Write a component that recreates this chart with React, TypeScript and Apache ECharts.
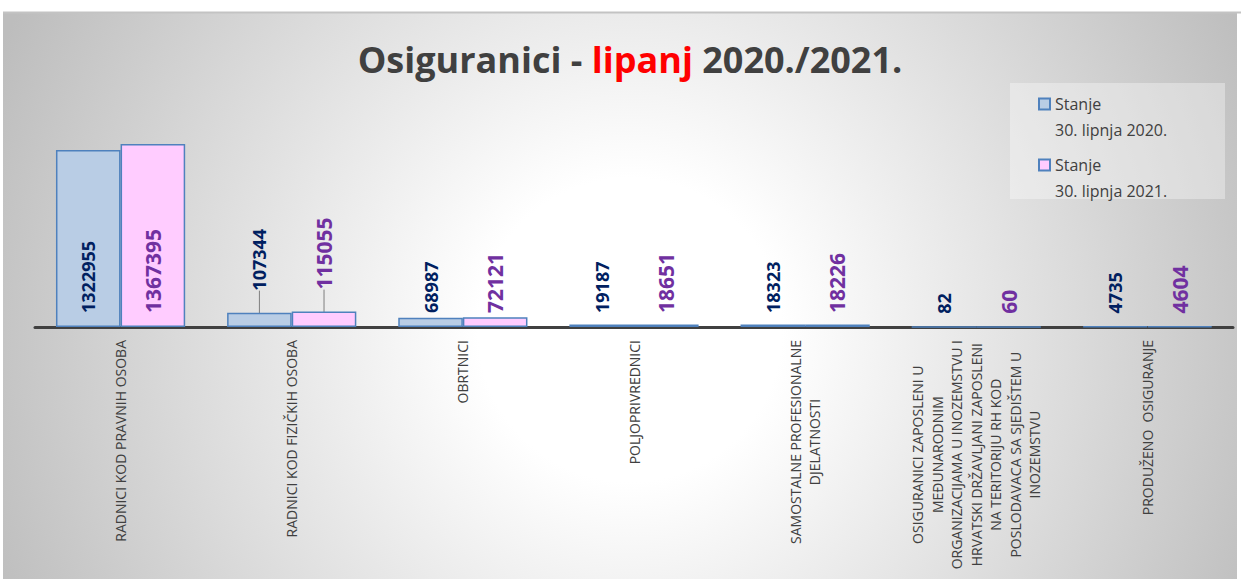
import React, { useEffect, useRef } from "react";
import * as echarts from "echarts";

const categories = [
  "RADNICI KOD PRAVNIH OSOBA",
  "RADNICI KOD FIZIČKIH OSOBA",
  "OBRTNICI",
  "POLJOPRIVREDNICI",
  "SAMOSTALNE PROFESIONALNE\nDJELATNOSTI",
  "OSIGURANICI ZAPOSLENI U\nMEĐUNARODNIM\nORGANIZACIJAMA U INOZEMSTVU I\nHRVATSKI DRŽAVLJANI ZAPOSLENI\nNA TERITORIJU RH KOD\nPOSLODAVACA SA SJEDIŠTEM U\nINOZEMSTVU",
  "PRODUŽENO  OSIGURANJE",
];
const values2020 = [1322955, 107344, 68987, 19187, 18323, 82, 4735];
const values2021 = [1367395, 115055, 72121, 18651, 18226, 60, 4604];
const seriesNames = ["Stanje\n30. lipnja 2020.", "Stanje\n30. lipnja 2021."];
const labelAboveIdx = [1];

const FONT = "Open Sans";

function buildData(values: number[]) {
  return values.map((v, i) =>
    labelAboveIdx.includes(i)
      ? {
          value: v,
          label: { position: "top", distance: 16, padding: [0, 0, 0, 6] },
          labelLine: { show: true },
        }
      : v
  );
}

export default function App() {
  const ref = useRef<HTMLDivElement>(null);
  useEffect(() => {
    if (!ref.current) return;
    const chart = echarts.init(ref.current, null, { renderer: "svg" });
    const labelBase = {
      show: true,
      position: "insideBottom",
      distance: 14,
      rotate: 90,
      align: "left",
      verticalAlign: "middle",
      fontWeight: "bold",
      fontFamily: FONT,
    };
    chart.setOption({
      animation: false,
      graphic: [
        {
          type: "rect",
          z: -10,
          silent: true,
          shape: { x: 3, y: 13, width: 1234, height: 570 },
          style: {
            fill: new echarts.graphic.RadialGradient(
              630,
              330,
              690,
              [
                { offset: 0, color: "#ffffff" },
                { offset: 0.22, color: "#ffffff" },
                { offset: 1, color: "#bdbdbd" },
              ],
              true
            ),
          },
        },
        {
          type: "line",
          z: -9,
          silent: true,
          shape: { x1: 3, y1: 12.5, x2: 1241, y2: 12.5 },
          style: { stroke: "#c3c3c3", lineWidth: 2 },
        },
        {
          type: "rect",
          z: -5,
          silent: true,
          shape: { x: 1010, y: 83, width: 215, height: 116 },
          style: { fill: "rgba(255,255,255,0.35)" },
        },
      ],
      title: {
        text: "{a|Osiguranici - }{b|lipanj}{a| 2020./2021.}",
        left: 630,
        top: 37,
        textAlign: "center",
        padding: 0,
        textStyle: {
          rich: {
            a: { fontSize: 36, fontWeight: "bold", color: "#404040", fontFamily: FONT, lineHeight: 44 },
            b: { fontSize: 36, fontWeight: "bold", color: "#ff0000", fontFamily: FONT, lineHeight: 44 },
          },
        },
      },
      legend: {
        data: seriesNames,
        orient: "vertical",
        left: 1038,
        top: 65,
        padding: 0,
        itemGap: -17,
        itemWidth: 11,
        itemHeight: 11,
        icon: "rect",
        formatter: (name: string) => "\n" + name,
        textStyle: {
          fontSize: 16,
          lineHeight: 26,
          color: "#404040",
          fontFamily: FONT,
        },
      },
      grid: { left: 35, right: 8, top: 113, bottom: 252, containLabel: false },
      xAxis: {
        type: "category",
        data: categories,
        axisLine: { show: true, lineStyle: { color: "#404040", width: 3 } },
        axisTick: { show: false },
        axisLabel: {
          interval: 0,
          rotate: 90,
          margin: 13,
          color: "#404040",
          fontFamily: FONT,
          fontSize: 14,
          formatter: (v: string) =>
            v
              .split("\n")
              .map((l) => "{c|" + l + "}")
              .join("\n"),
          rich: {
            c: { align: "center", fontSize: 14, lineHeight: 19.5, color: "#404040", fontFamily: FONT },
          },
        },
      },
      yAxis: {
        type: "value",
        min: 0,
        max: 1600000,
        show: false,
        splitLine: { show: false },
      },
      series: [
        {
          name: seriesNames[0],
          type: "bar",
          data: buildData(values2020),
          barGap: "0%",
          barCategoryGap: "24.5%",
          itemStyle: { color: "#b9cde5", borderColor: "#4f81bd", borderWidth: 1.5 },
          label: { ...labelBase, color: "#002060", fontSize: 18 },
          labelLine: { lineStyle: { color: "#7f7f7f", width: 1 } },
        },
        {
          name: seriesNames[1],
          type: "bar",
          data: buildData(values2021),
          barGap: "0%",
          barCategoryGap: "24.5%",
          itemStyle: { color: "#ffccff", borderColor: "#4f81bd", borderWidth: 1.5 },
          label: { ...labelBase, color: "#7030a0", fontSize: 21 },
          labelLine: { lineStyle: { color: "#7f7f7f", width: 1 } },
        },
      ],
    });
    return () => chart.dispose();
  }, []);
  return (
    <div
      ref={ref}
      style={{ position: "absolute", left: 0, top: 0, width: 1241, height: 579 }}
    />
  );
}
